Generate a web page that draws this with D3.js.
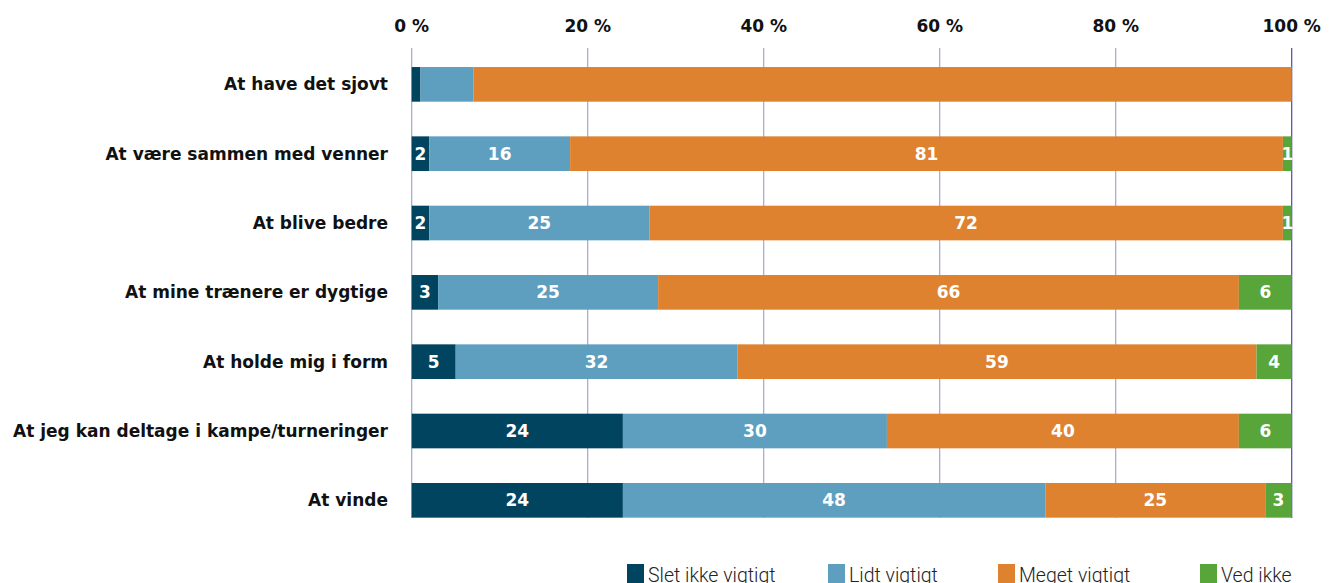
<!DOCTYPE html>
<html>
<head>
<meta charset="utf-8">
<script src="https://cdn.jsdelivr.net/npm/d3@7"></script>
<style>
  html, body { margin: 0; padding: 0; background: #ffffff; overflow: hidden; }
  svg { display: block; }
</style>
</head>
<body>
<div id="chart"></div>
<script>
const categories = [
    'At have det sjovt',
    'At være sammen med venner',
    'At blive bedre',
    'At mine trænere er dygtige',
    'At holde mig i form',
    'At jeg kan deltage i kampe/turneringer',
    'At vinde'
];
const seriesNames = ['Slet ikke vigtigt', 'Lidt vigtigt', 'Meget vigtigt', 'Ved ikke'];
const sletIkke = [1, 2, 2, 3, 5, 24, 24];
const lidt = [6, 16, 25, 25, 32, 30, 48];
const meget = [93, 81, 72, 66, 59, 40, 25];
const vedIkke = [0, 1, 1, 6, 4, 6, 3];
const showLabels = [false, true, true, true, true, true, true];
const tickValues = [0, 20, 40, 60, 80, 100];
const colors = ['#00445f', '#5e9fc0', '#df822f', '#58a63a'];

const width = 1338;
const height = 583;
const boldFont = '"DejaVu Sans", sans-serif';

const x = d3.scaleLinear().domain([0, 100]).range([411.7, 1291.7]);
const y = d3.scaleBand().domain(categories).range([49.7, 535]).paddingInner(0.5).paddingOuter(0.25);

const svg = d3.select('#chart').append('svg')
    .attr('width', width)
    .attr('height', height);

// gridlines
svg.append('g').selectAll('line')
    .data(tickValues)
    .join('line')
    .attr('x1', d => x(d)).attr('x2', d => x(d))
    .attr('y1', 48).attr('y2', 518)
    .attr('stroke', d => d === 100 ? '#4a4aa8' : '#a3a3d4')
    .attr('stroke-width', 1.2);

// top axis labels
svg.append('g').selectAll('text')
    .data(tickValues)
    .join('text')
    .attr('x', d => x(d))
    .attr('y', 32)
    .attr('text-anchor', 'middle')
    .attr('font-family', boldFont)
    .attr('font-weight', 700)
    .attr('font-size', 17)
    .attr('fill', '#111')
    .text(d => d + ' %');

// stacked data
const rows = categories.map((c, i) => ({
    cat: c, i,
    values: [sletIkke[i], lidt[i], meget[i], vedIkke[i]]
}));
const segments = [];
rows.forEach(r => {
    let acc = 0;
    r.values.forEach((v, k) => {
        segments.push({ cat: r.cat, row: r.i, k, v, x0: acc, x1: acc + v });
        acc += v;
    });
});

svg.append('g').selectAll('rect')
    .data(segments.filter(s => s.v > 0))
    .join('rect')
    .attr('x', s => x(s.x0))
    .attr('y', s => y(s.cat))
    .attr('width', s => x(s.x1) - x(s.x0))
    .attr('height', y.bandwidth())
    .attr('fill', s => colors[s.k]);

svg.append('g').selectAll('text')
    .data(segments.filter(s => s.v > 0 && showLabels[s.row]))
    .join('text')
    .attr('x', s => (x(s.x0) + x(s.x1)) / 2)
    .attr('y', s => y(s.cat) + y.bandwidth() / 2)
    .attr('dy', '0.36em')
    .attr('text-anchor', 'middle')
    .attr('font-family', boldFont)
    .attr('font-weight', 700)
    .attr('font-size', 17)
    .attr('fill', '#ffffff')
    .text(s => s.v);

// category labels
svg.append('g').selectAll('text')
    .data(categories)
    .join('text')
    .attr('x', 388)
    .attr('y', d => y(d) + y.bandwidth() / 2)
    .attr('dy', '0.36em')
    .attr('text-anchor', 'end')
    .attr('font-family', boldFont)
    .attr('font-weight', 700)
    .attr('font-size', 17)
    .attr('fill', '#111')
    .text(d => d);

// legend
const legendX = [627, 828, 998, 1200];
const legend = svg.append('g').selectAll('g')
    .data(seriesNames)
    .join('g')
    .attr('transform', (d, i) => `translate(${legendX[i]},564)`);
legend.append('rect')
    .attr('width', 17).attr('height', 19)
    .attr('fill', (d, i) => colors[i]);
legend.append('text')
    .attr('x', 21)
    .attr('y', 17.5)
    .attr('font-family', 'Roboto, sans-serif')
    .attr('font-weight', 300)
    .attr('font-size', 19.5)
    .attr('fill', '#222')
    .text(d => d);
</script>
</body>
</html>
